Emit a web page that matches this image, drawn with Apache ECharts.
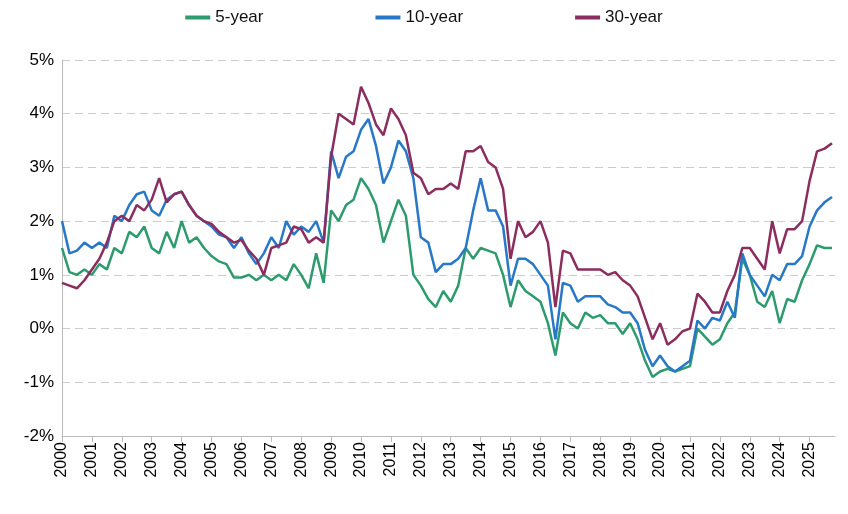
<!DOCTYPE html>
<html>
<head>
<meta charset="utf-8">
<script src="https://cdn.jsdelivr.net/npm/echarts@6/dist/echarts.min.js"></script>
<style>html,body{margin:0;padding:0;background:#fff}#c{width:848px;height:514px}</style>
</head>
<body>
<div id="c"></div>
<script>
// quarterly readings, starting 2000 Q1
var startYear = 2000;
var y5 = [1.5,1.05,1.0,1.1, 1.0,1.2,1.1,1.5, 1.4,1.8,1.7,1.9, 1.5,1.4,1.8,1.5, 2.0,1.6,1.7,1.5,
  1.35,1.25,1.2,0.95, 0.95,1.0,0.9,1.0, 0.9,1.0,0.9,1.2, 1.0,0.75,1.4,0.85, 2.2,2.0,2.3,2.4,
  2.8,2.6,2.3,1.6, 2.0,2.4,2.1,1.0, 0.8,0.55,0.4,0.7, 0.5,0.8,1.5,1.3, 1.5,1.45,1.4,1.0,
  0.4,0.9,0.7,0.6, 0.5,0.1,-0.5,0.3, 0.1,0.0,0.3,0.2, 0.25,0.1,0.1,-0.1, 0.1,-0.2,-0.6,-0.9,
  -0.8,-0.75,-0.8,-0.75, -0.7,0.0,-0.15,-0.3, -0.2,0.1,0.3,1.3, 1.0,0.5,0.4,0.7, 0.1,0.55,0.5,0.9,
  1.2,1.55,1.5,1.5];
var y10 = [2.0,1.4,1.45,1.6, 1.5,1.6,1.5,2.1, 2.0,2.3,2.5,2.55, 2.2,2.1,2.4,2.5, 2.55,2.3,2.1,2.0,
  1.9,1.75,1.7,1.5, 1.7,1.4,1.2,1.4, 1.7,1.5,2.0,1.75, 1.9,1.8,2.0,1.6, 3.3,2.8,3.2,3.3,
  3.7,3.9,3.4,2.7, 3.0,3.5,3.3,2.8, 1.7,1.6,1.05,1.2, 1.2,1.3,1.5,2.2, 2.8,2.2,2.2,1.9,
  0.8,1.3,1.3,1.2, 1.0,0.8,-0.2,0.85, 0.8,0.5,0.6,0.6, 0.6,0.45,0.4,0.3, 0.3,0.1,-0.4,-0.7,
  -0.5,-0.7,-0.8,-0.7, -0.6,0.15,0.0,0.2, 0.15,0.5,0.2,1.4, 1.0,0.8,0.6,1.0, 0.9,1.2,1.2,1.35,
  1.9,2.2,2.35,2.45];
var y30 = [0.85,0.8,0.75,0.9, 1.1,1.3,1.6,2.0, 2.1,2.0,2.3,2.2, 2.4,2.8,2.35,2.5, 2.55,2.3,2.1,2.0,
  1.95,1.8,1.7,1.6, 1.65,1.45,1.3,1.0, 1.5,1.55,1.6,1.9, 1.85,1.6,1.7,1.6, 3.2,4.0,3.9,3.8,
  4.5,4.2,3.8,3.6, 4.1,3.9,3.6,2.9, 2.8,2.5,2.6,2.6, 2.7,2.6,3.3,3.3, 3.4,3.1,3.0,2.6,
  1.3,2.0,1.7,1.8, 2.0,1.6,0.4,1.45, 1.4,1.1,1.1,1.1, 1.1,1.0,1.05,0.9, 0.8,0.6,0.2,-0.2,
  0.1,-0.3,-0.2,-0.05, 0.0,0.65,0.5,0.3, 0.3,0.7,1.0,1.5, 1.5,1.3,1.1,2.0, 1.4,1.85,1.85,2.0,
  2.75,3.3,3.35,3.45];

function pairs(arr) {
    return arr.map(function (v, i) { return [startYear + i / 4, v]; });
}

var myChart = echarts.init(document.getElementById('c'));
var font = 'Liberation Sans, Arial, sans-serif';
var option = {
    animation: false,
    color: ['#2E9B6E', '#2878C8', '#8B2D5E'],
    legend: {
        top: 4,
        left: 'center',
        itemGap: 112,
        itemWidth: 25,
        icon: 'rect',
        itemHeight: 4,
        textStyle: {fontSize: 17, fontFamily: font, color: '#111'},
        data: ['5-year', '10-year', '30-year']
    },
    grid: {left: 62, right: 13, top: 60, bottom: 78},
    xAxis: {
        type: 'value',
        min: 2000,
        max: 2025.85,
        interval: 1,
        axisLine: {onZero: false, lineStyle: {color: '#bbb'}},
        axisTick: {show: true, length: 6, lineStyle: {color: '#bbb'}},
        splitLine: {show: false},
        axisLabel: {
            rotate: 90, fontSize: 16, fontFamily: font, color: '#000',
            showMaxLabel: false, margin: 6,
            formatter: function (v) { return String(v); }
        }
    },
    yAxis: {
        type: 'value',
        min: -2,
        max: 5,
        interval: 1,
        axisLine: {show: true, lineStyle: {color: '#bbb'}},
        axisTick: {show: false},
        splitLine: {lineStyle: {color: '#ccc', type: [8, 5]}},
        axisLabel: {fontSize: 17, fontFamily: font, color: '#000', formatter: '{value}%'}
    },
    series: [
        {name: '5-year', type: 'line', showSymbol: false, lineStyle: {width: 2.5}, data: pairs(y5)},
        {name: '10-year', type: 'line', showSymbol: false, lineStyle: {width: 2.5}, data: pairs(y10)},
        {name: '30-year', type: 'line', showSymbol: false, lineStyle: {width: 2.5}, data: pairs(y30)}
    ]
};
myChart.setOption(option);
</script>
</body>
</html>
